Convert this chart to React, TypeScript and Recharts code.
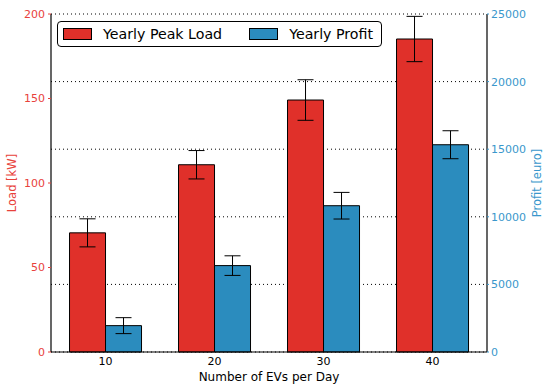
import React from 'react';
import { ComposedChart, Bar, XAxis, YAxis, CartesianGrid, ErrorBar, Legend, Label } from 'recharts';

const categories = [10, 20, 30, 40];
const peakLoad = [70.5, 110.8, 149.1, 185.2];
const peakLoadErr = [8.3, 8.4, 12.0, 13.4];
const profit = [1950, 6390, 10820, 15330];
const profitErr = [590, 725, 985, 1035];
const leftTicks = [0, 50, 100, 150, 200];
const rightTicks = [0, 5000, 10000, 15000, 20000, 25000];

const RED = '#e0302a';
const BLUE = '#2b8cbe';
const RED_TXT = '#e8423b';
const BLUE_TXT = '#3a97cc';
const FONT = 'DejaVu Sans, sans-serif';

const data = categories.map((c, i) => ({
  cat: c,
  load: peakLoad[i],
  loadErr: peakLoadErr[i],
  profit: profit[i],
  profitErr: profitErr[i],
}));

const LegendBox = () => (
  <div
    style={{
      width: 323,
      height: 24,
      border: '1px solid #000',
      borderRadius: 4,
      background: '#fff',
      display: 'flex',
      alignItems: 'center',
      fontFamily: FONT,
      fontSize: 14.2,
      color: '#000',
      boxSizing: 'content-box',
      whiteSpace: 'nowrap',
    }}
  >
    <span style={{ display: 'inline-block', flex: 'none', width: 27, height: 10, background: RED, border: '1px solid #000', marginLeft: 5 }} />
    <span style={{ marginLeft: 11 }}>Yearly Peak Load</span>
    <span style={{ display: 'inline-block', flex: 'none', width: 27, height: 10, background: BLUE, border: '1px solid #000', marginLeft: 27 }} />
    <span style={{ marginLeft: 11 }}>Yearly Profit</span>
  </div>
);

export default function App() {
  return (
    <div style={{ position: 'absolute', left: 0, top: 0, width: 544, height: 385, background: '#fff' }}>
      <ComposedChart
        width={544}
        height={385}
        data={data}
        margin={{ top: 14, right: 0, bottom: 0, left: 0 }}
        barCategoryGap="17%"
        barGap={0}
      >
        <CartesianGrid yAxisId="right" vertical={false} stroke="#000" strokeDasharray="1 3" />
        <XAxis
          dataKey="cat"
          height={33}
          axisLine={{ stroke: '#000', strokeWidth: 1.2 }}
          tickLine={false}
          tickSize={0}
          tickMargin={5}
          tick={{ fill: '#000', fontSize: 11, fontFamily: FONT }}
        >
          <Label value="Number of EVs per Day" position="center" dy={8} style={{ fill: '#000', fontSize: 12, fontFamily: FONT }} />
        </XAxis>
        <XAxis xAxisId="top" dataKey="cat" orientation="top" height={0} tick={false} tickLine={false} axisLine={{ stroke: '#000', strokeWidth: 1.2 }} />
        <YAxis
          yAxisId="left"
          width={51}
          domain={[0, 200]}
          ticks={leftTicks}
          interval={0}
          axisLine={{ stroke: '#000', strokeWidth: 1.2 }}
          tickLine={{ stroke: RED_TXT }}
          tickSize={3}
          tickMargin={3}
          tick={{ fill: RED_TXT, fontSize: 11, fontFamily: FONT }}
        >
          <Label value="Load [kW]" angle={-90} position="center" dx={-14} style={{ fill: RED_TXT, fontSize: 11.5, fontFamily: FONT, textAnchor: 'middle' }} />
        </YAxis>
        <YAxis
          yAxisId="right"
          orientation="right"
          width={57}
          domain={[0, 25000]}
          ticks={rightTicks}
          interval={0}
          axisLine={{ stroke: '#000', strokeWidth: 1.2 }}
          tickLine={{ stroke: BLUE_TXT }}
          tickSize={2}
          tickMargin={2}
          tick={{ fill: BLUE_TXT, fontSize: 11, fontFamily: FONT }}
        >
          <Label value="Profit [euro]" angle={-90} position="center" dx={21} style={{ fill: BLUE_TXT, fontSize: 11.5, fontFamily: FONT, textAnchor: 'middle' }} />
        </YAxis>
        <Legend
          layout="horizontal"
          align="center"
          verticalAlign="middle"
          content={() => <LegendBox />}
          wrapperStyle={{ left: 57, top: 21, width: 325, height: 26 }}
        />
        <Bar yAxisId="left" dataKey="load" fill={RED} stroke="#000" strokeWidth={1} isAnimationActive={false}>
          <ErrorBar dataKey="loadErr" width={8} stroke="#000" strokeWidth={1} />
        </Bar>
        <Bar yAxisId="right" dataKey="profit" fill={BLUE} stroke="#000" strokeWidth={1} isAnimationActive={false}>
          <ErrorBar dataKey="profitErr" width={8} stroke="#000" strokeWidth={1} />
        </Bar>
      </ComposedChart>
    </div>
  );
}
